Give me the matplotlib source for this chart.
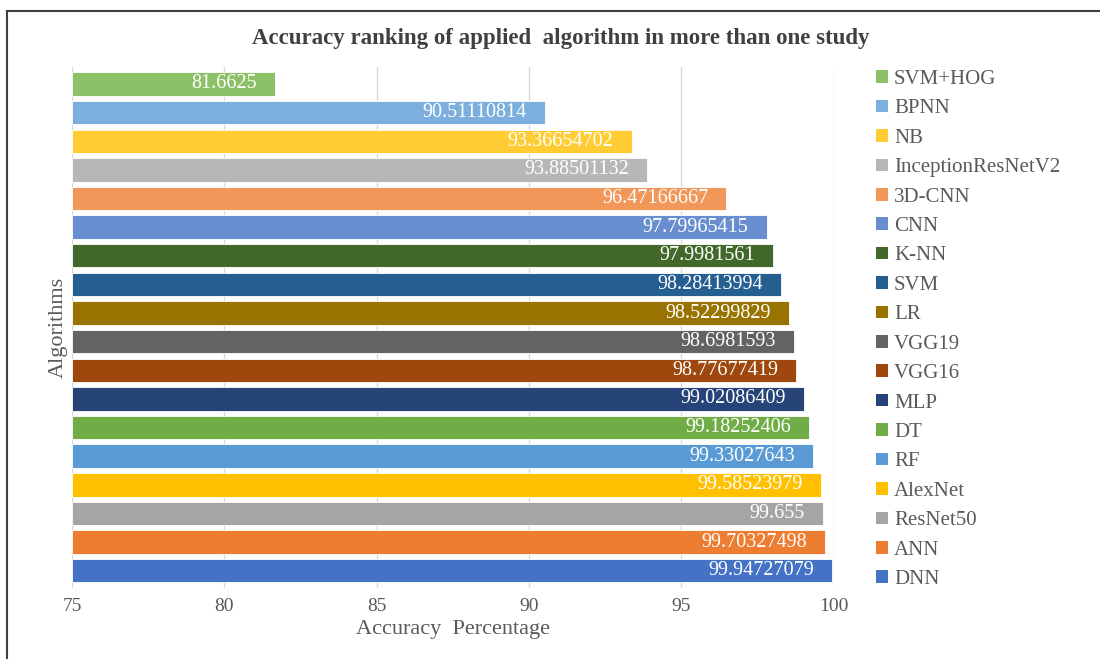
import numpy as np
import matplotlib
matplotlib.use("Agg")
import matplotlib.pyplot as plt
from matplotlib.patches import Rectangle
from matplotlib.lines import Line2D

# Algoritmos de arriba hacia abajo, con su precisión media (%)
algoritmos = ["SVM+HOG", "BPNN", "NB", "InceptionResNetV2", "3D-CNN", "CNN",
              "K-NN", "SVM", "LR", "VGG19", "VGG16", "MLP", "DT", "RF",
              "AlexNet", "ResNet50", "ANN", "DNN"]
precision = [81.6625, 90.51110814, 93.36654702, 93.88501132, 96.47166667,
             97.79965415, 97.9981561, 98.28413994, 98.52299829, 98.6981593,
             98.77677419, 99.02086409, 99.18252406, 99.33027643, 99.58523979,
             99.655, 99.70327498, 99.94727079]
colores = ["#8cc168", "#7cafdd", "#ffcd33", "#b7b7b7", "#f1975a", "#698ed0",
           "#43682b", "#255e91", "#997300", "#636363", "#9e480e", "#264478",
           "#70ad47", "#5b9bd5", "#ffc000", "#a5a5a5", "#ed7d31", "#4472c4"]
ticks_x = [75, 80, 85, 90, 95, 100]

GRIS = "#595959"
plt.rcParams["font.family"] = ["Liberation Serif", "DejaVu Serif"]

fig = plt.figure(figsize=(11, 6.59), dpi=100)
ax = fig.add_axes([0.0655, 0.108, 0.6924, 0.7906])

y = np.arange(len(algoritmos))
ax.barh(y, [p - 75 for p in precision], left=75, height=0.82,
        color=colores, edgecolor="white", linewidth=0.6, zorder=2)

# etiquetas de valor dentro de cada barra
for yi, p in zip(y, precision):
    ax.annotate(str(p), xy=(p, yi), xytext=(-13, 0), textcoords="offset points",
                ha="right", va="center", color="white", fontsize=14.5, zorder=3)

ax.set_xlim(75, 100)
ax.set_ylim(len(algoritmos) - 0.4, -0.6)
ax.set_xticks(ticks_x)
ax.set_xticklabels([str(t) for t in ticks_x])
ax.set_yticks([])
ax.tick_params(axis="x", length=0, pad=7, labelsize=14, labelcolor=GRIS)
ax.grid(axis="x", color="#d9d9d9", linewidth=1, zorder=0)
for s in ax.spines.values():
    s.set_visible(False)

ax.set_xlabel("Accuracy  Percentage", fontsize=16, color=GRIS, labelpad=4)
ax.set_ylabel("Algorithms", fontsize=16, color=GRIS, labelpad=3)

fig.text(0.51, 0.941, "Accuracy ranking of applied  algorithm in more than one study",
         ha="center", va="center", fontsize=16.5, fontweight="bold", color="#404040")

# leyenda a la derecha, mismo orden que las barras
handles = [Rectangle((0, 0), 1, 1, facecolor=c) for c in colores]
leg = fig.legend(handles, algoritmos, loc="upper left", bbox_to_anchor=(0.789, 0.9065),
                 frameon=False, fontsize=15, handlelength=0.55, handleheight=0.55,
                 handletextpad=0.3, labelspacing=0.5, borderaxespad=0)
for t in leg.get_texts():
    t.set_color(GRIS)

# marco superior e izquierdo
fig.add_artist(Line2D([0.006, 1.0], [0.984, 0.984], color="#404040", linewidth=1.5))
fig.add_artist(Line2D([0.0065, 0.0065], [0.0, 0.984], color="#404040", linewidth=1.5))

fig.savefig("out.png", dpi=100)
